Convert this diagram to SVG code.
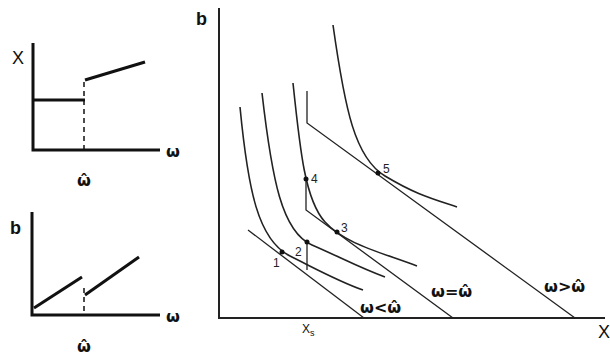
<svg xmlns="http://www.w3.org/2000/svg" width="610" height="356" viewBox="0 0 610 356">
<style>
.ax{stroke:#111;stroke-width:3;fill:none}
.ax2{stroke:#222;stroke-width:2;fill:none}
.ln{stroke:#111;stroke-width:3;fill:none}
.dash{stroke:#111;stroke-width:1.5;stroke-dasharray:5,4;fill:none}
.cv{stroke:#222;stroke-width:1.6;fill:none}
.bl{stroke:#222;stroke-width:1.3;fill:none}
.lbl{font-family:"Liberation Sans",Arial,sans-serif;fill:#111}
.om{font-family:"DejaVu Sans","Liberation Sans",sans-serif;font-weight:bold;fill:#111;font-size:16px}
.num{font-family:"Liberation Sans",Arial,sans-serif;font-size:12px;fill:#222}
</style>
<rect width="610" height="356" fill="#fff"/>
<g id="graph-x">
<polyline class="ax" points="33,43 33,150 160,150"/>
<line class="ln" x1="34" y1="100" x2="85" y2="100"/>
<line class="ln" x1="85" y1="80" x2="145" y2="62"/>
<line class="dash" x1="84" y1="82" x2="84" y2="150"/>
<text class="lbl" x="12" y="64" font-size="18">X</text>
<text class="om" x="166" y="157">ω</text>
<text class="om" x="84" y="186" text-anchor="middle" font-size="18">ω̂</text>
</g>
<g id="graph-b">
<polyline class="ax" points="32,212 32,315 160,315"/>
<line class="ln" x1="34" y1="308" x2="82" y2="277"/>
<line class="ln" x1="85" y1="295" x2="139" y2="257"/>
<line class="dash" x1="84" y1="288" x2="84" y2="315"/>
<text class="lbl" x="10" y="234" font-size="18" font-weight="bold">b</text>
<text class="om" x="166" y="322">ω</text>
<text class="om" x="84" y="352" text-anchor="middle" font-size="18">ω̂</text>
</g>
<g id="main-axes">
<polyline class="ax2" points="219,8 219,318 605,318"/>
<text class="lbl" x="196" y="25" font-size="18" font-weight="bold">b</text>
<text class="lbl" x="598" y="338" font-size="18">X</text>
<text class="lbl" x="302" y="333" font-size="12">X<tspan font-size="9" dy="3">s</tspan></text>
</g>
<g id="curves">
<path id="ic1" class="cv" d="M240,107 C248,190 258,240 290,256 S340,282 363,290"/>
<path id="ic2" class="cv" d="M262,93 C272,180 282,232 312,245 S360,268 385,277"/>
<path id="ic3" class="cv" d="M293,83 C300,150 305,200 325,222 S380,252 417,266"/>
<path id="ic4" class="cv" d="M333,25 C345,110 355,158 385,176 S430,198 457,207"/>
</g>
<g id="connectors">
<line class="bl" x1="248" y1="230" x2="364" y2="318"/>
<line class="bl" x1="307" y1="242" x2="307" y2="270"/>
<polyline class="bl" points="306,179 306,210 453,318"/>
<polyline class="bl" points="307,91 307,123 575,318"/>
</g>
<g id="points">
<circle cx="282" cy="252" r="2.5" fill="#111"/>
<circle cx="307" cy="242" r="2.5" fill="#111"/>
<circle cx="337" cy="232" r="2.5" fill="#111"/>
<circle cx="306" cy="179" r="2.5" fill="#111"/>
<circle cx="378" cy="173" r="2.5" fill="#111"/>
<text class="num" x="273" y="267">1</text>
<text class="num" x="295" y="256">2</text>
<text class="num" x="341" y="232">3</text>
<text class="num" x="311" y="183">4</text>
<text class="num" x="383" y="173">5</text>
</g>
<g id="labels">
<text class="om" x="360" y="313">ω&lt;ω̂</text>
<text class="om" x="431" y="297">ω=ω̂</text>
<text class="om" x="544" y="292">ω&gt;ω̂</text>
</g>
</svg>
